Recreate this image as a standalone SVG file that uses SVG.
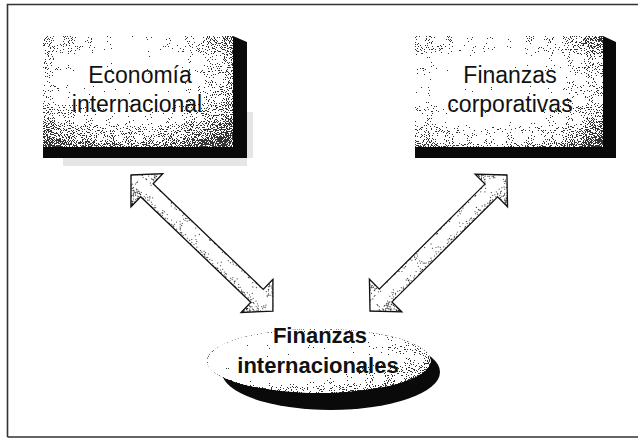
<svg xmlns="http://www.w3.org/2000/svg" width="638" height="439" viewBox="0 0 638 439">
<style>
.lbl{font-family:"Liberation Sans",Arial,sans-serif;font-size:23px;fill:#111;text-anchor:middle}
.blbl{font-family:"Liberation Sans",Arial,sans-serif;font-size:22px;font-weight:bold;fill:#111;text-anchor:middle}
.side{fill:#0a0a0a}
.arrowline{fill:none;stroke:#111;stroke-width:1.3;stroke-linejoin:miter}
</style>
<defs>
<filter id="grain" x="0" y="0" width="100%" height="100%" color-interpolation-filters="sRGB">
  <feTurbulence type="fractalNoise" baseFrequency="0.95" numOctaves="1" seed="7" result="t"/>
  <feColorMatrix in="t" type="matrix" values="1 0 0 0 0  1 0 0 0 0  1 0 0 0 0  0 0 0 0 1" result="n"/>
  <feComposite in="SourceGraphic" in2="n" operator="arithmetic" k1="0" k2="1" k3="2.0" k4="-1.0" result="s"/>
  <feComponentTransfer in="s" result="d">
    <feFuncR type="discrete" tableValues="0.2 1"/>
    <feFuncG type="discrete" tableValues="0.2 1"/>
    <feFuncB type="discrete" tableValues="0.2 1"/>
    <feFuncA type="linear" slope="0" intercept="1"/>
  </feComponentTransfer>
  <feComposite in="d" in2="SourceAlpha" operator="in"/>
</filter>
<radialGradient id="faceL" cx="0.45" cy="0.38" r="0.75">
  <stop offset="0" stop-color="#fff"/>
  <stop offset="0.35" stop-color="#fff"/>
  <stop offset="0.7" stop-color="#b0b0b0"/>
  <stop offset="1" stop-color="#5a5a5a"/>
</radialGradient>
<radialGradient id="faceR" cx="0.42" cy="0.45" r="0.75">
  <stop offset="0" stop-color="#fff"/>
  <stop offset="0.38" stop-color="#fff"/>
  <stop offset="0.75" stop-color="#b5b5b5"/>
  <stop offset="1" stop-color="#606060"/>
</radialGradient>
<radialGradient id="faceB" cx="0.3" cy="0.35" r="0.85">
  <stop offset="0" stop-color="#fff"/>
  <stop offset="0.45" stop-color="#fff"/>
  <stop offset="0.8" stop-color="#b5b5b5"/>
  <stop offset="1" stop-color="#707070"/>
</radialGradient>
<linearGradient id="shaft" x1="0" y1="0" x2="0" y2="1">
  <stop offset="0" stop-color="#808080"/>
  <stop offset="0.45" stop-color="#eeeeee"/>
  <stop offset="0.6" stop-color="#cccccc"/>
  <stop offset="1" stop-color="#707070"/>
</linearGradient>
</defs>

<rect width="638" height="439" fill="#fff"/>
<path d="M7.5 437 V4.5 H638 M7.5 437 H638" fill="none" stroke="#333" stroke-width="1.6"/>

<g id="economia-internacional">
  <polygon points="63,158 253,158 253,112 247,112 247,166 63,166" fill="#e6e6e6"/>
  <polygon class="side" points="233,36 247,42 247,158 43,158 43,147 233,147"/>
  <rect x="43" y="36" width="190" height="111" fill="url(#faceL)" filter="url(#grain)"/>
  <text class="lbl" x="140" y="83">Economía</text>
  <text class="lbl" x="137" y="112">internacional</text>
</g>

<g id="finanzas-corporativas">
  <polygon class="side" points="603,36 616,42 616,158 415,158 415,147 603,147"/>
  <rect x="415" y="36" width="188" height="111" fill="url(#faceR)" filter="url(#grain)"/>
  <text class="lbl" x="510" y="83">Finanzas</text>
  <text class="lbl" x="510" y="112">corporativas</text>
</g>

<g id="finanzas-internacionales">
  <ellipse cx="331" cy="372" rx="109" ry="38" class="side"/>
  <ellipse cx="319" cy="361" rx="112" ry="32" fill="url(#faceB)" filter="url(#grain)"/>
  <text class="blbl" x="320" y="343">Finanzas</text>
  <text class="blbl" x="318" y="373">internacionales</text>
</g>

<g id="connectors">
  <g transform="translate(131,175) rotate(43.8)">
    <polygon points="0,0 22,-23 22,-9 174.6,-9 174.6,-23 196.6,0 174.6,23 174.6,9 22,9 22,23" fill="url(#shaft)" filter="url(#grain)"/>
    <polygon class="arrowline" points="0,0 22,-23 22,-9 174.6,-9 174.6,-23 196.6,0 174.6,23 174.6,9 22,9 22,23"/>
  </g>
  <g transform="translate(370,311) rotate(-44.8)">
    <polygon points="0,0 22,-23 22,-9 171,-9 171,-23 193,0 171,23 171,9 22,9 22,23" fill="url(#shaft)" filter="url(#grain)"/>
    <polygon class="arrowline" points="0,0 22,-23 22,-9 171,-9 171,-23 193,0 171,23 171,9 22,9 22,23"/>
  </g>
</g>
</svg>
